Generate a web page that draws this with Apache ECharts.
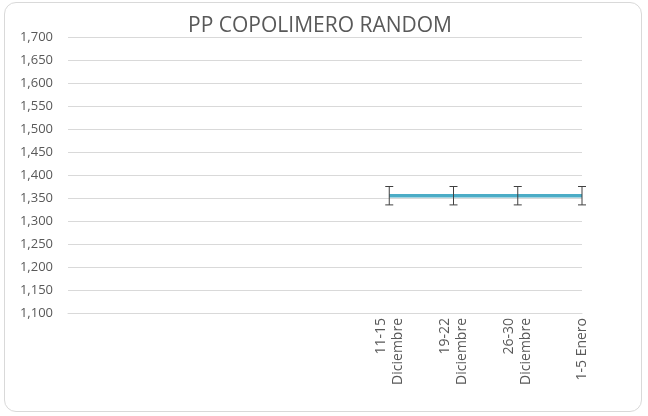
<!DOCTYPE html>
<html><head><meta charset="utf-8">
<script src="https://cdn.jsdelivr.net/npm/echarts@6/dist/echarts.min.js"></script>
<style>
html,body{margin:0;padding:0;background:#fff;}
#wrap{position:absolute;left:4px;top:2px;width:638px;height:410px;border:1px solid #d9d9d9;border-radius:12px;box-sizing:border-box;}
#c{position:absolute;left:0;top:0;width:648px;height:416px;}
</style></head>
<body>
<div id="wrap"></div>
<div id="c"></div>
<script>
const categories = ['', '', '', '', '', '11-15\nDiciembre', '19-22\nDiciembre', '26-30\nDiciembre', '1-5 Enero'];
const values = [null, null, null, null, null, 1355, 1355, 1355, 1355];
const errorPlus = [null, null, null, null, null, 20, 20, 20, 20];
const errorMinus = [null, null, null, null, null, 20, 20, 20, 20];

const errData = [];
categories.forEach((c, i) => {
  if (values[i] != null) errData.push([i, values[i] - errorMinus[i], values[i] + errorPlus[i]]);
});

const chart = echarts.init(document.getElementById('c'));
const font = '"Open Sans", "Liberation Sans", sans-serif';
chart.setOption({
  animation: false,
  title: {
    text: 'PP COPOLIMERO RANDOM', left: 315, top: 11, textAlign: 'center',
    textStyle: { fontFamily: font, fontSize: 21, fontWeight: 'normal', color: '#595959' }
  },
  grid: { left: 68, right: 66, top: 37, bottom: 103, containLabel: false },
  xAxis: {
    type: 'category', data: categories, boundaryGap: false,
    axisLine: { show: true, lineStyle: { color: '#d9d9d9' } },
    axisTick: { show: false },
    axisLabel: { rotate: 90, interval: 0, fontFamily: font, fontSize: 14, color: '#595959', margin: 5, lineHeight: 17, align: 'right' }
  },
  yAxis: {
    type: 'value', min: 1100, max: 1700, interval: 50,
    axisLine: { show: false }, axisTick: { show: false },
    splitLine: { lineStyle: { color: '#d9d9d9' } },
    axisLabel: { fontFamily: font, fontSize: 13, color: '#595959', margin: 15,
      formatter: v => v.toLocaleString('en-US') }
  },
  series: [
    {
      type: 'line', data: values, symbol: 'none', connectNulls: false,
      lineStyle: { color: '#4bacc6', width: 3.5 }, z: 2
    },
    {
      type: 'custom', data: errData, z: 3,
      renderItem: function (params, api) {
        const x = api.value(0);
        const lo = api.coord([x, api.value(1)]);
        const hi = api.coord([x, api.value(2)]);
        const w = 4;
        const st = { stroke: '#404040', lineWidth: 1 };
        return { type: 'group', children: [
          { type: 'line', shape: { x1: lo[0], y1: lo[1], x2: hi[0], y2: hi[1] }, style: st },
          { type: 'line', shape: { x1: lo[0] - w, y1: lo[1], x2: lo[0] + w, y2: lo[1] }, style: st },
          { type: 'line', shape: { x1: hi[0] - w, y1: hi[1], x2: hi[0] + w, y2: hi[1] }, style: st }
        ]};
      }
    }
  ]
});
</script>
</body></html>
